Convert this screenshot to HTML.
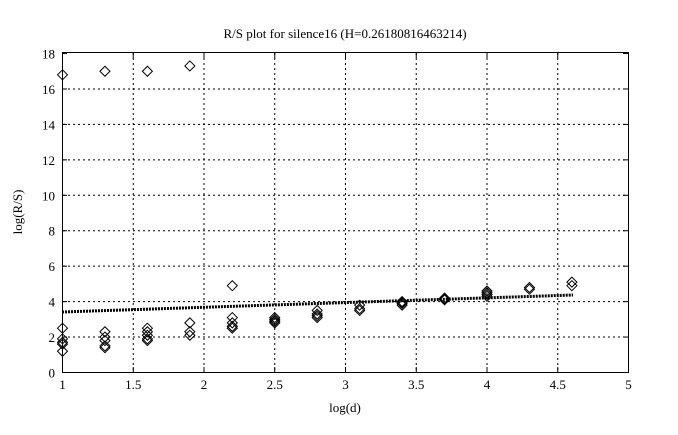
<!DOCTYPE html>
<html><head><meta charset="utf-8"><style>body{margin:0;background:#fff}</style></head><body>
<svg id="s" width="678" height="430" xmlns="http://www.w3.org/2000/svg" font-family="Liberation Serif, serif" font-size="13">
<rect width="678" height="430" fill="#fff"/>
<g id="grid" stroke="#000" stroke-width="1" stroke-dasharray="2,3"></g>
<rect x="62.5" y="52.5" width="566" height="320" fill="none" stroke="#000"/>
<g id="ticks" stroke="#000"></g>
<g id="labels"></g>
<line x1="62" y1="312" x2="573" y2="295" stroke="#000" stroke-width="3" stroke-dasharray="2,1"/>
<g id="pts" fill="none" stroke="#000" stroke-width="1"></g>
<text x="345" y="38" text-anchor="middle">R/S plot for silence16 (H=0.26180816463214)</text>
<text x="345" y="412" text-anchor="middle">log(d)</text>
<text transform="translate(22,212) rotate(-90)" text-anchor="middle">log(R/S)</text>
</svg>
<script>
const X=v=>62.5+(v-1)*141.5, Y=v=>372.5-v*17.72;
let g='',t='',l='';
for(let v=1.5;v<5;v+=0.5){g+=`<line x1="${X(v)}" y1="53" x2="${X(v)}" y2="372"/>`;}
for(let v=2;v<18;v+=2){g+=`<line x1="63" y1="${Y(v)}" x2="628" y2="${Y(v)}"/>`;}
for(let v=1;v<=5;v+=0.5){t+=`<line x1="${X(v)}" y1="372" x2="${X(v)}" y2="367"/><line x1="${X(v)}" y1="53" x2="${X(v)}" y2="58"/>`;l+=`<text x="${X(v)}" y="389" text-anchor="middle">${v}</text>`;}
for(let v=0;v<=18;v+=2){t+=`<line x1="62" y1="${Y(v)}" x2="67" y2="${Y(v)}"/><line x1="628" y1="${Y(v)}" x2="623" y2="${Y(v)}"/>`;l+=`<text x="55" y="${Y(v)+5}" text-anchor="end">${v}</text>`;}
document.getElementById('grid').innerHTML=g;document.getElementById('ticks').innerHTML=t;document.getElementById('labels').innerHTML=l;
const d={1:[16.8,2.5,1.9,1.7,1.6,1.2],1.3:[17.0,2.3,2.0,1.8,1.5,1.4],1.6:[17.0,2.5,2.3,2.1,1.9,1.8],1.9:[17.3,2.8,2.3,2.1],2.2:[4.9,3.1,2.8,2.6,2.5,2.6],2.5:[3.1,3.0,2.9,2.8,2.9],2.8:[3.5,3.3,3.2,3.1],3.1:[3.8,3.6,3.5],3.4:[4.0,3.9,3.8,3.95],3.7:[4.2,4.1,4.15],4.0:[4.6,4.4,4.3,4.5],4.3:[4.8,4.7],4.6:[5.1,4.9]};
let p='';for(const k in d)for(const v of d[k]){const x=X(+k),y=Y(v);p+=`<path d="M${x-5} ${y}L${x} ${y-5}L${x+5} ${y}L${x} ${y+5}Z"/>`;}
document.getElementById('pts').innerHTML=p;
</script>
</body></html>
